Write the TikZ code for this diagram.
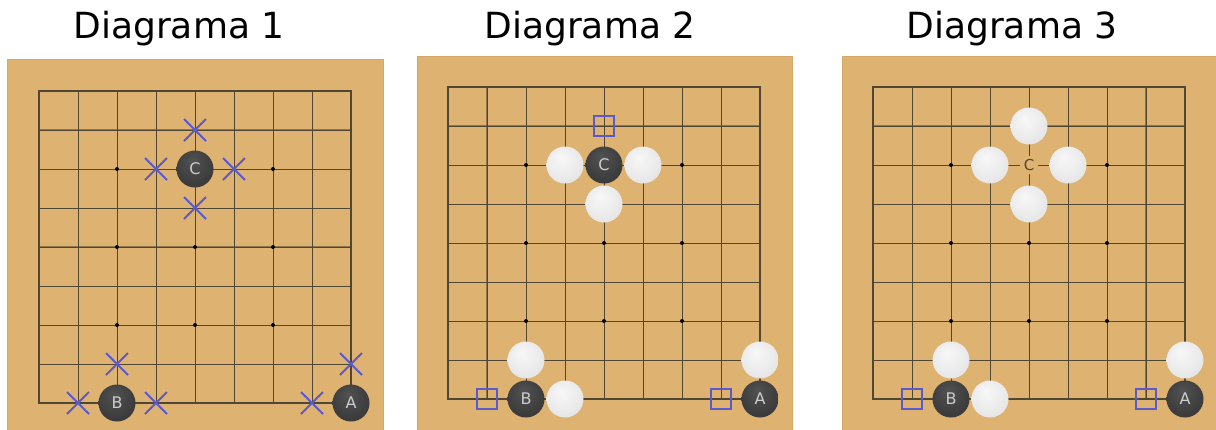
\documentclass[tikz,border=0pt]{standalone}
\usepackage{fontspec}
\setmainfont{DejaVu Sans}
\usetikzlibrary{shapes.misc}
\definecolor{woodc}{RGB}{222,178,112}
\definecolor{woodedge}{RGB}{214,168,102}
\definecolor{gridc}{RGB}{80,70,52}
\definecolor{markc}{RGB}{90,90,205}
\definecolor{labelc}{RGB}{205,205,205}
% piedras
\pgfdeclareradialshading{whiteball}{\pgfpoint{-6bp}{10bp}}{%
  color(0bp)=(white!97!black); color(22bp)=(white!92!black); color(42bp)=(white!86!black);
  color(50bp)=(white!68!black)}
\pgfdeclareradialshading{blackball}{\pgfpoint{-4bp}{12bp}}{%
  color(0bp)=(black!68); color(25bp)=(black!76); color(45bp)=(black!82);
  color(50bp)=(black!90)}
\begin{document}
\begin{tikzpicture}[x=1pt,y=-1pt,
    title/.style={anchor=base,font=\fontsize{36}{40}\selectfont},
    board/.style={fill=woodc,draw=woodedge,line width=1pt},
    gridline/.style={draw=gridc,line width=1pt},
    heavyline/.style={draw=gridc,draw opacity=0.55,line width=2.6pt},
    hoshi/.style={fill=black,radius=2pt},
    stoneB/.style={circle,minimum size=37pt,inner sep=0pt,shading=blackball,
      text=labelc,font=\fontsize{16}{16}\selectfont},
    stoneW/.style={circle,minimum size=37pt,inner sep=0pt,shading=whiteball},
    xmark/.style={cross out,draw=markc,line width=2pt,minimum size=20pt,inner sep=0pt},
    sqmark/.style={rectangle,draw=markc,line width=1.5pt,minimum size=20pt,inner sep=0pt},
    freelabel/.style={circle,fill=woodc,inner sep=1pt,text=gridc,font=\fontsize{15}{15}\selectfont}]
  \useasboundingbox (0,0) rectangle (1216,429);
  % titulos
  \node[title] (t1) at (179,38) {Diagrama 1};
  \node[title] (t2) at (590,38) {Diagrama 2};
  \node[title] (t3) at (1012,38) {Diagrama 3};
  % tableros
  \fill[board] (7,59) rectangle (383,432);
  \fill[board] (417,56) rectangle (792,432);
  \fill[board] (842,56) rectangle (1220,432);
  % diagrama 1
  \begin{scope}[shift={(39,91)},x=39pt,y=-39pt]
    \foreach \i in {0,...,8} {
      \draw[gridline] (\i,0) -- (\i,8);
      \draw[gridline] (0,\i) -- (8,\i);
    }
    \draw[heavyline] (0,1) -- (8,1);
    \draw[heavyline] (0,4) -- (8,4);
    \draw[gridline,line width=1.6pt] (0,0) rectangle (8,8);
    \foreach \c in {2,4,6} \foreach \r in {2,4,6} \fill[hoshi] (\c,\r) circle;
    \node[stoneB] (d1C) at (4,2) {C};
    \node[stoneB] (d1B) at (2,8) {B};
    \node[stoneB] (d1A) at (8,8) {A};
    \node[xmark] (d1x1) at (4,1) {};
    \node[xmark] (d1x2) at (3,2) {};
    \node[xmark] (d1x3) at (5,2) {};
    \node[xmark] (d1x4) at (4,3) {};
    \node[xmark] (d1x5) at (2,7) {};
    \node[xmark] (d1x6) at (1,8) {};
    \node[xmark] (d1x7) at (3,8) {};
    \node[xmark] (d1x8) at (8,7) {};
    \node[xmark] (d1x9) at (7,8) {};
  \end{scope}
  % diagrama 2
  \begin{scope}[shift={(448,87)},x=39pt,y=-39pt]
    \foreach \i in {0,...,8} {
      \draw[gridline] (\i,0) -- (\i,8);
      \draw[gridline] (0,\i) -- (8,\i);
    }
    \draw[heavyline] (0,1) -- (8,1);
    \draw[heavyline] (1,0) -- (1,8);
    \draw[gridline,line width=1.6pt] (0,0) rectangle (8,8);
    \foreach \c in {2,4,6} \foreach \r in {2,4,6} \fill[hoshi] (\c,\r) circle;
    \node[stoneB] (d2C) at (4,2) {C};
    \node[stoneW] (d2w1) at (3,2) {};
    \node[stoneW] (d2w2) at (5,2) {};
    \node[stoneW] (d2w3) at (4,3) {};
    \node[stoneB] (d2B) at (2,8) {B};
    \node[stoneW] (d2w4) at (2,7) {};
    \node[stoneW] (d2w5) at (3,8) {};
    \node[stoneB] (d2A) at (8,8) {A};
    \node[stoneW] (d2w6) at (8,7) {};
    \node[sqmark] (d2s1) at (4,1) {};
    \node[sqmark] (d2s2) at (1,8) {};
    \node[sqmark] (d2s3) at (7,8) {};
  \end{scope}
  % diagrama 3
  \begin{scope}[shift={(873,87)},x=39pt,y=-39pt]
    \foreach \i in {0,...,8} {
      \draw[gridline] (\i,0) -- (\i,8);
      \draw[gridline] (0,\i) -- (8,\i);
    }
    \draw[heavyline] (0,1) -- (8,1);
    \draw[heavyline] (7,0) -- (7,8);
    \draw[gridline,line width=1.6pt] (0,0) rectangle (8,8);
    \foreach \c in {2,4,6} \foreach \r in {2,4,6} \fill[hoshi] (\c,\r) circle;
    \node[freelabel] (d3C) at (4,2) {C};
    \node[stoneW] (d3w1) at (4,1) {};
    \node[stoneW] (d3w2) at (3,2) {};
    \node[stoneW] (d3w3) at (5,2) {};
    \node[stoneW] (d3w4) at (4,3) {};
    \node[stoneB] (d3B) at (2,8) {B};
    \node[stoneW] (d3w5) at (2,7) {};
    \node[stoneW] (d3w6) at (3,8) {};
    \node[stoneB] (d3A) at (8,8) {A};
    \node[stoneW] (d3w7) at (8,7) {};
    \node[sqmark] (d3s1) at (1,8) {};
    \node[sqmark] (d3s2) at (7,8) {};
  \end{scope}
\end{tikzpicture}
\end{document}
